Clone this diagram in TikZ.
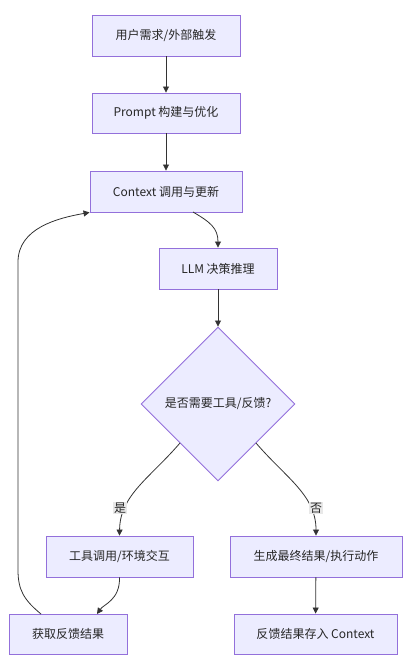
\documentclass[tikz,border=0pt]{standalone}
\usepackage{fontspec}
\setmainfont{Noto Sans CJK SC}
\usetikzlibrary{shapes.geometric,arrows.meta}
\definecolor{nodefill}{HTML}{ECECFF}
\definecolor{nodeline}{HTML}{9370DB}
\definecolor{edgeline}{HTML}{333333}
\definecolor{lblbg}{HTML}{E8E8E8}
\begin{document}
\begin{tikzpicture}[x=1pt,y=-1pt,
  box/.style={draw=nodeline,fill=nodefill,line width=0.9pt,rectangle,inner sep=0pt,font=\fontsize{12}{14}\selectfont,text=black!85},
  dec/.style={draw=nodeline,fill=nodefill,line width=0.9pt,diamond,inner sep=0pt,minimum width=154pt,minimum height=154pt,font=\fontsize{12}{14}\selectfont,text=black!85},
  edge/.style={draw=edgeline,line width=0.8pt,-{Triangle[length=6pt,width=6pt]}},
  lbl/.style={fill=lblbg,inner sep=1pt,font=\fontsize{12}{14}\selectfont,text=black!85}]
\useasboundingbox (0,0) rectangle (410,666);
\node[box,minimum width=148pt,minimum height=41pt] (a) at (166,35.5) {用户需求/外部触发};
\node[box,minimum width=148pt,minimum height=40pt] (b) at (166,113) {Prompt 构建与优化};
\node[box,minimum width=152pt,minimum height=41pt] (c) at (166,191.5) {Context 调用与更新};
\node[box,minimum width=118pt,minimum height=41pt] (d) at (218,268.5) {LLM 决策推理};
\node[dec] (e) at (218,404) {是否需要工具/反馈?};
\node[box,minimum width=147pt,minimum height=41pt] (f) at (119.5,556.5) {工具调用/环境交互};
\node[box,minimum width=172pt,minimum height=41pt] (g) at (316,556.5) {生成最终结果/执行动作};
\node[box,minimum width=118pt,minimum height=40pt] (h) at (68,634) {获取反馈结果};
\node[box,minimum width=163pt,minimum height=40pt] (i) at (315.5,634) {反馈结果存入 Context};
\coordinate (c1) at (193,212);
\coordinate (e1) at (180,443);
\coordinate (e2) at (256,443);
\coordinate (h0) at (97,614);
\coordinate (h1) at (41,614);
\draw[edge] (a) -- (b);
\draw[edge] (b) -- (c);
\draw[edge] (c1) .. controls (210,222) and (218,228) .. (d.north);
\draw[edge] (d) -- (e.north);
\draw[edge] (e1) .. controls (150,478) and (120,495) .. (f.north);
\draw[edge] (e2) .. controls (286,478) and (316,495) .. (g.north);
\node[lbl] (ly) at (120,508) {是};
\node[lbl] (ln) at (316,508) {否};
\draw[edge] (f.south) .. controls (120,600) and (104,604) .. (h0);
\draw[edge] (h1) .. controls (24,600) and (18,590) .. (18,570) -- (18,262) .. controls (18,228) and (58,218) .. (c.south west);
\draw[edge] (g) -- (i);
\end{tikzpicture}
\end{document}
